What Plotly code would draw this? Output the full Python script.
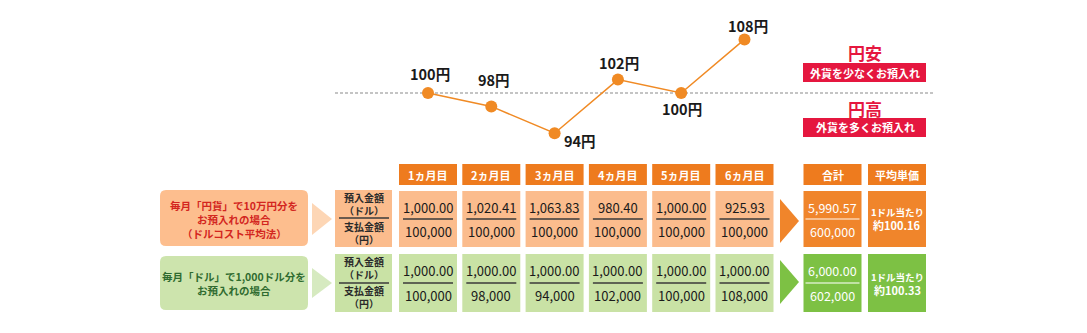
import plotly.graph_objects as go

# ---------------- data ----------------
months = ["1ヵ月目", "2ヵ月目", "3ヵ月目", "4ヵ月目", "5ヵ月目", "6ヵ月目"]
rates = [100, 98, 94, 102, 100, 108]
base_rate = 100
yen_buy_dollars = ["1,000.00", "1,020.41", "1,063.83", "980.40", "1,000.00", "925.93"]
yen_buy_paid = ["100,000", "100,000", "100,000", "100,000", "100,000", "100,000"]
usd_buy_dollars = ["1,000.00", "1,000.00", "1,000.00", "1,000.00", "1,000.00", "1,000.00"]
usd_buy_paid = ["100,000", "98,000", "94,000", "102,000", "100,000", "108,000"]
summary_headers = ["合計", "平均単価"]
yen_total = ["5,990.57", "600,000"]
usd_total = ["6,000.00", "602,000"]
avg_prefix = "1ドル当たり"
avg_values = ["約100.16", "約100.33"]
yen_title = ["毎月「円貨」で10万円分を", "お預入れの場合", "（ドルコスト平均法）"]
usd_title = ["毎月「ドル」で1,000ドル分を", "お預入れの場合"]
row_label_top = "預入金額<br>（ドル）"
row_label_bottom = "支払金額<br>（円）"
zone_titles = ["円安", "円高"]
zone_notes = ["外貨を少なくお預入れ", "外貨を多くお預入れ"]

# ---------------- layout constants ----------------
W, H = 1087, 333
COL0 = 428.0      # pixel centre of first month column
PITCH = 63.3      # pixel distance between month columns
PX_PER_YEN = 6.7  # vertical scale of the rate chart
BASE_PX = 93.0    # pixel row of base rate
HW = 29.0 / PITCH  # half width of a cell in column units

FONT = "Noto Sans CJK JP, Noto Sans, sans-serif"
C_HEAD = "#EE7B1E"
C_OR_LIGHT = "#FBBC8D"
C_GR_LIGHT = "#C9E2A5"
C_OR_DARK = "#F0852B"
C_GR_DARK = "#7DC144"
C_LINE = "#F08A24"
C_RED = "#E5173F"


def X(px):
    return (px - COL0) / PITCH


def Y(py):
    return 1 - py / H


x_range = [X(0), X(W)]
y_range = [base_rate - (H - BASE_PX) / PX_PER_YEN, base_rate + BASE_PX / PX_PER_YEN]

fig = go.Figure()
shapes = []
ann = []


def rect(x0, x1, py0, py1, color):
    shapes.append(dict(type="rect", xref="x", yref="paper", x0=x0, x1=x1,
                       y0=Y(py1), y1=Y(py0), fillcolor=color, line=dict(width=0), layer="below"))


def hline(x0, x1, py, color, width=1.3):
    shapes.append(dict(type="line", xref="x", yref="paper", x0=x0, x1=x1,
                       y0=Y(py), y1=Y(py), line=dict(color=color, width=width)))


def text(x, py, s, size, color, bold=False, xanchor="center"):
    ann.append(dict(x=x, y=Y(py), xref="x", yref="paper", text=("<b>%s</b>" % s) if bold else s,
                    showarrow=False, xanchor=xanchor, yanchor="middle", borderpad=0,
                    font=dict(family=FONT, size=size, color=color)))


def tri(px0, px1, py0, py1, color):
    xm = X(px1)
    path = "M %f,%f L %f,%f L %f,%f Z" % (X(px0), Y(py0), xm, Y((py0 + py1) / 2), X(px0), Y(py1))
    shapes.append(dict(type="path", xref="x", yref="paper", path=path,
                       fillcolor=color, line=dict(width=0), layer="below"))


def rounded(px0, px1, py0, py1, r, color):
    x0, x1 = X(px0), X(px1)
    rx = r / PITCH
    ry = r / H
    y0, y1 = Y(py1), Y(py0)
    path = ("M %f,%f L %f,%f Q %f,%f %f,%f L %f,%f Q %f,%f %f,%f L %f,%f Q %f,%f %f,%f "
            "L %f,%f Q %f,%f %f,%f Z") % (
        x0 + rx, y0, x1 - rx, y0, x1, y0, x1, y0 + ry, x1, y1 - ry, x1, y1, x1 - rx, y1,
        x0 + rx, y1, x0, y1, x0, y1 - ry, x0, y0 + ry, x0, y0, x0 + rx, y0)
    shapes.append(dict(type="path", xref="x", yref="paper", path=path,
                       fillcolor=color, line=dict(width=0), layer="below"))


# ---------------- rate chart ----------------
shapes.append(dict(type="line", xref="x", yref="y", x0=X(335), x1=X(935), y0=base_rate, y1=base_rate,
                   line=dict(color="#8a8a8a", width=1.2, dash="3px,2px"), layer="below"))
xs = list(range(len(months)))
fig.add_trace(go.Scatter(x=xs, y=rates, mode="lines+markers",
                         line=dict(color=C_LINE, width=1.5),
                         marker=dict(color=C_LINE, size=12), hoverinfo="skip", showlegend=False))
label_shift = [(2, 20), (3, 27), (25, -7), (1, 17), (1, -15), (3, 14)]
for i, r in enumerate(rates):
    dx, dy = label_shift[i]
    ann.append(dict(x=i, y=r, xref="x", yref="y", text="<b>%d円</b>" % r, showarrow=False,
                    xshift=dx, yshift=dy, font=dict(family=FONT, size=14.5, color="#1a1a1a")))

# zone labels
zx = X(865)
text(zx, 53, zone_titles[0], 17, C_RED, bold=True)
rect(X(803), X(926), 63, 82, C_RED)
text(zx, 72.5, zone_notes[0], 11, "white", bold=True)
text(zx, 108, zone_titles[1], 17, C_RED, bold=True)
rect(X(803), X(926), 118, 137, C_RED)
text(zx, 127.5, zone_notes[1], 11, "white", bold=True)

# ---------------- table ----------------
OR_TOP, OR_BOT = 191, 247
GR_TOP, GR_BOT = 254, 312
for i, m in enumerate(months):
    rect(i - HW, i + HW, 164, 185, C_HEAD)
    text(i, 174.5, m, 11, "white", bold=True)
    rect(i - HW, i + HW, OR_TOP, OR_BOT, C_OR_LIGHT)
    rect(i - HW, i + HW, GR_TOP, GR_BOT, C_GR_LIGHT)
    hline(i - 25 / PITCH, i + 25 / PITCH, 219, "#3a3a3a", 1.5)
    hline(i - 25 / PITCH, i + 25 / PITCH, 283, "#3a3a3a", 1.5)
    text(i, 207, yen_buy_dollars[i], 13, "#1a1a1a")
    text(i, 231, yen_buy_paid[i], 13, "#1a1a1a")
    text(i, 270, usd_buy_dollars[i], 13, "#1a1a1a")
    text(i, 295, usd_buy_paid[i], 13, "#1a1a1a")

# summary columns
sum_c = [X(832.5), X(897)]
for j, h in enumerate(summary_headers):
    c = sum_c[j]
    rect(c - HW, c + HW, 164, 185, C_HEAD)
    text(c, 174.5, h, 11, "white", bold=True)
    rect(c - HW, c + HW, OR_TOP, OR_BOT, C_OR_DARK)
    rect(c - HW, c + HW, GR_TOP, GR_BOT, C_GR_DARK)
c = sum_c[0]
hline(c - 27 / PITCH, c + 27 / PITCH, 219, "#FBD3B0", 1.5)
hline(c - 27 / PITCH, c + 27 / PITCH, 283, "#D7EDC4", 1.5)
text(c, 207, yen_total[0], 12.5, "white")
text(c, 231, yen_total[1], 12.5, "white")
text(c, 270, usd_total[0], 12.5, "white")
text(c, 295, usd_total[1], 12.5, "white")
c = sum_c[1]
text(c, 212, avg_prefix, 9.5, "white", bold=True)
text(c, 225, avg_values[0], 11, "white", bold=True)
text(c, 277, avg_prefix, 9.5, "white", bold=True)
text(c, 290, avg_values[1], 11, "white", bold=True)

# arrows into summary
tri(780, 799, 199, 243, C_OR_DARK)
tri(780, 799, 260, 304, C_GR_DARK)

# row label column
lc = X(363.5)
rect(X(335), X(392), OR_TOP - 1, OR_BOT, C_OR_LIGHT)
rect(X(335), X(392), GR_TOP, GR_BOT, C_GR_LIGHT)
hline(X(339), X(389), 218, "#3a3a3a", 1.5)
hline(X(339), X(389), 283, "#3a3a3a", 1.5)
for base in (204, 268):
    text(lc, base, row_label_top, 10, "#2a2a2a", bold=True)
    text(lc, base + 29, row_label_bottom, 10, "#2a2a2a", bold=True)

# left title boxes
rounded(160, 308, 190, 246, 6, "#FDBE8E")
rounded(160, 308, 256, 310, 6, "#CDE4AD")
tri(312, 332, 203, 235, "#FDD6B5")
tri(312, 332, 268, 298, "#D6EAC0")
tc = X(234)
for k, s in enumerate(yen_title):
    text(tc, 205 + 14 * k, s, 10.5, "#D3261F", bold=True)
for k, s in enumerate(usd_title):
    text(tc, 276 + 14.5 * k, s, 10.5, "#2F6B30", bold=True)

fig.update_layout(
    width=W, height=H, margin=dict(l=0, r=0, t=0, b=0),
    paper_bgcolor="white", plot_bgcolor="white",
    xaxis=dict(range=x_range, visible=False, fixedrange=True),
    yaxis=dict(range=y_range, visible=False, fixedrange=True),
    shapes=shapes, annotations=ann, showlegend=False,
)
fig.write_html("out.html")
